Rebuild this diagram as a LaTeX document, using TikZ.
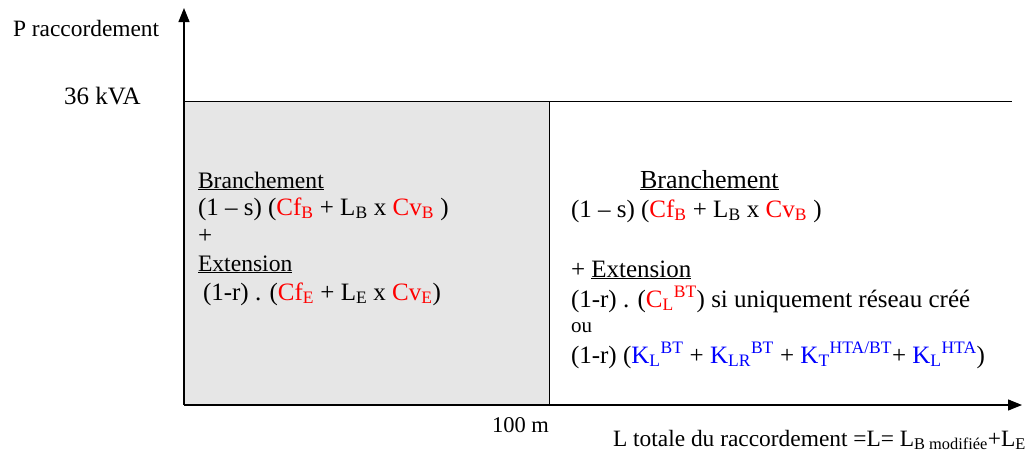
\documentclass[tikz,border=0pt]{standalone}
\usepackage{fontspec}
\setmainfont{Liberation Serif}
\usetikzlibrary{arrows.meta}
\definecolor{boxgray}{HTML}{E6E6E6}
\definecolor{cred}{HTML}{FF0000}
\definecolor{cblue}{HTML}{0000FF}
\newcommand{\rd}[1]{\textcolor{cred}{#1}}
\newcommand{\bl}[1]{\textcolor{cblue}{#1}}
\newcommand{\sbs}[1]{\textsubscript{#1}}
\newcommand{\sps}[1]{\textsuperscript{#1}}
\tikzset{
  lab/.style={anchor=base west, inner sep=0pt, outer sep=0pt, font=\fontsize{23.4}{27}\selectfont},
  ttl/.style={anchor=base west, inner sep=0pt, outer sep=0pt, font=\fontsize{23.6}{27}\selectfont},
  bigttl/.style={anchor=base west, inner sep=0pt, outer sep=0pt, font=\fontsize{26}{30}\selectfont},
  frm/.style={anchor=base west, inner sep=0pt, outer sep=0pt, font=\fontsize{25}{29}\selectfont},
  small/.style={anchor=base west, inner sep=0pt, outer sep=0pt, font=\fontsize{21}{24}\selectfont},
  axis/.style={line width=1.2pt, -{Triangle[length=14pt,width=11pt]}},
  thin/.style={line width=1pt}
}
\begin{document}
\begin{tikzpicture}[x=1pt,y=-1pt]
\useasboundingbox (0,0) rectangle (1035,455);
\coordinate (O) at (184,405);
\coordinate (ytop) at (184,8);
\coordinate (xend) at (1022,405);
\coordinate (h0) at (184,101);
\coordinate (h1) at (1012,101);
\coordinate (c100) at (549,405);
% gray box
\fill[boxgray] (184,101) rectangle (549,405);
\draw[thin] (h0) -- (h1);
\draw[thin] (549,101) -- (c100);
\draw[axis] (O) -- (ytop);
\draw[axis] (O) -- (xend);
% axis labels
\node[lab] (py) at (13,36) {P raccordement};
\node[frm] (kva) at (64,104) {36 kVA};
\node[lab, font=\fontsize{22.5}{26}\selectfont] (m100) at (492,432) {100 m};
\node[lab] (lx) at (613,446) {L totale du raccordement =L= L\sbs{B modifiée}+L\sbs{E}};
% left box
\node[ttl] (lb1) at (198,188) {\underline{Branchement}};
\node[frm] (lb2) at (198,215) {(1 – s) (\rd{Cf\sbs{B}} + L\sbs{B} x \rd{Cv\sbs{B}} )};
\node[frm] (lb3) at (198,243) {+};
\node[ttl] (lb4) at (198,271) {\underline{Extension}};
\node[frm] (lb5) at (203,300) {(1-r) . (\rd{Cf\sbs{E}} + L\sbs{E} x \rd{Cv\sbs{E}})};
% right area
\node[bigttl] (rb1) at (640,188) {\underline{Branchement}};
\node[frm] (rb2) at (571,217) {(1 – s) (\rd{Cf\sbs{B}} + L\sbs{B} x \rd{Cv\sbs{B}} )};
\node[frm] (rb3) at (571,277) {+ \underline{Extension}};
\node[frm] (rb4) at (571,307) {(1-r) . (\rd{C\sbs{L}\sps{BT}}) si uniquement réseau créé};
\node[small] (rb5) at (571,332) {ou};
\node[frm] (rb6) at (571,363) {(1-r) (\bl{K\sbs{L}\sps{BT}} + \bl{K\sbs{LR}\sps{BT}} + \bl{K\sbs{T}\sps{HTA/BT}}+ \bl{K\sbs{L}\sps{HTA}})};
\end{tikzpicture}
\end{document}
